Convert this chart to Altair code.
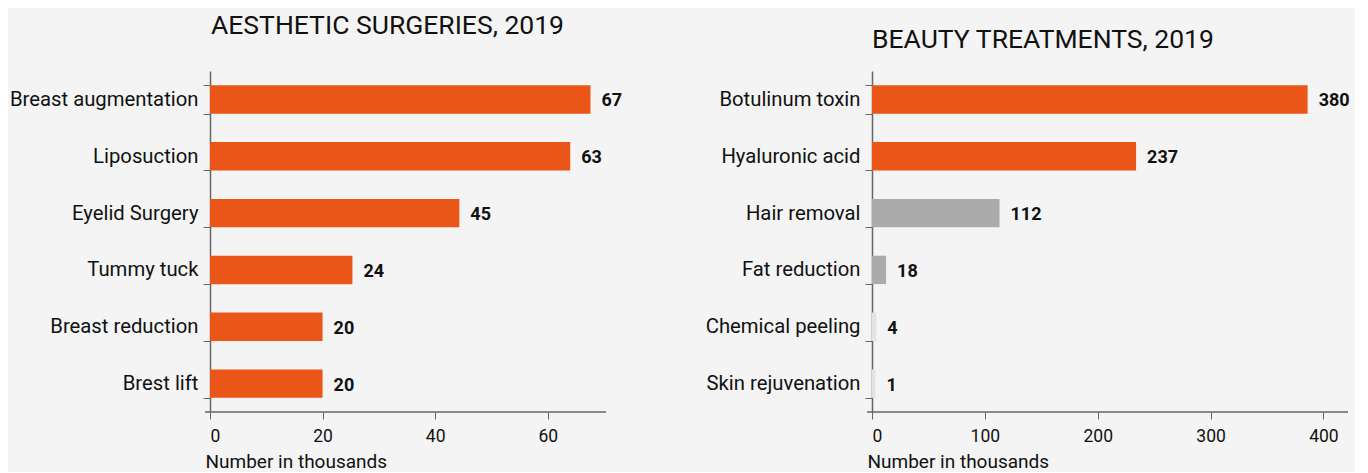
import altair as alt
import pandas as pd

# ---- data ----
surg_cats = ["Breast augmentation", "Liposuction", "Eyelid Surgery",
             "Tummy tuck", "Breast reduction", "Brest lift"]
surg_vals = [67.6, 64.0, 44.3, 25.3, 20.0, 20.0]
surg_labels = ["67", "63", "45", "24", "20", "20"]

treat_cats = ["Botulinum toxin", "Hyaluronic acid", "Hair removal",
              "Fat reduction", "Chemical peeling", "Skin rejuvenation"]
treat_vals = [386.0, 234.0, 113.0, 12.5, 3.7, 3.0]
treat_labels = ["380", "237", "112", "18", "4", "1"]
treat_group = ["high", "high", "mid", "mid", "low", "low"]

surg_ticks = [0, 20, 40, 60]
treat_ticks = [0, 100, 200, 300, 400]

FONT = "Roboto"
AXIS_COLOR = "#666666"
TEXT_COLOR = "#111111"
ORANGE = "#E95618"

H = 341

surg_df = pd.DataFrame({"cat": surg_cats, "val": surg_vals, "lab": surg_labels,
                        "grp": ["high"] * len(surg_cats)})
treat_df = pd.DataFrame({"cat": treat_cats, "val": treat_vals, "lab": treat_labels,
                         "grp": treat_group})

color_scale = alt.Scale(domain=["high", "mid", "low"],
                        range=[ORANGE, "#ABABAB", "#E3E3E3"])


def panel(df, cats, xmax, ticks, width, title, title_dx, title_dy):
    y = alt.Y("cat:N", sort=cats,
              scale=alt.Scale(paddingInner=0.5, paddingOuter=0.25),
              axis=alt.Axis(title=None, domain=True, domainColor=AXIS_COLOR,
                            domainWidth=1.5,
                            tickColor=AXIS_COLOR, tickSize=7, tickBand="extent",
                            labelFontSize=20.3, labelColor=TEXT_COLOR, labelFont=FONT,
                            labelPadding=5, labelLimit=400))
    x = alt.X("val:Q", scale=alt.Scale(domain=[0, xmax], nice=False, zero=True),
              axis=alt.Axis(values=ticks, title="Number in thousands",
                            titleAnchor="start", titleAlign="left", titleX=-5,
                            titleFont=FONT, titleFontSize=19, titleFontWeight="normal",
                            titleColor=TEXT_COLOR, titlePadding=8,
                            domain=False, grid=False, tickSize=7,
                            tickColor=AXIS_COLOR, labelFont=FONT, labelFontSize=17.5,
                            labelColor=TEXT_COLOR, labelPadding=8))
    bars = alt.Chart(df).mark_bar().encode(
        y=y, x=x,
        color=alt.Color("grp:N", scale=color_scale, legend=None))
    text = alt.Chart(df).mark_text(align="left", baseline="middle", dx=11, dy=2,
                                   font=FONT, fontSize=18, fontWeight="bold",
                                   color=TEXT_COLOR).encode(
        y=alt.Y("cat:N", sort=cats), x=alt.X("val:Q"), text="lab:N")
    rule = alt.Chart(alt.Data(values=[{}])).mark_rule(
        color=AXIS_COLOR, strokeWidth=1.5).encode(
        x=alt.value(-5), x2=alt.value(width + 2), y=alt.value(H))
    return alt.layer(bars, text, rule).properties(
        width=width, height=H,
        title=alt.TitleParams(title, anchor="start", frame="group", dx=title_dx,
                              dy=title_dy, offset=0, font=FONT, fontSize=26.5,
                              fontWeight="normal", color=TEXT_COLOR,
                              baseline="alphabetic"))


left = panel(surg_df, surg_cats, 70, surg_ticks, 394,
             "AESTHETIC SURGERIES, 2019", 1, -1)
right = panel(treat_df, treat_cats, 420, treat_ticks, 474,
              "BEAUTY TREATMENTS, 2019", 0, 13)

chart = alt.hconcat(left, right, spacing=268, bounds="flush").properties(
    padding={"left": 1, "top": 4, "right": 5, "bottom": 0},
    background="#F4F4F4",
).configure_view(stroke=None)

chart.save("out.html", embed_options={"renderer": "svg", "actions": False})
